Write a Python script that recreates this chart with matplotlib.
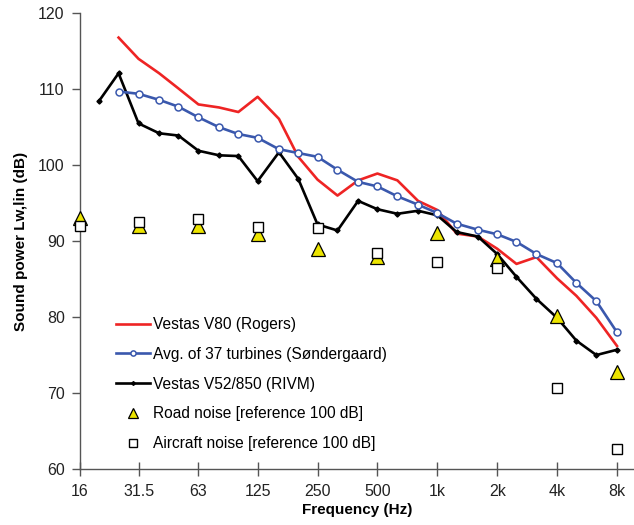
import matplotlib
matplotlib.use("Agg")
import matplotlib.pyplot as plt

plt.rcParams['font.family'] = ['Liberation Sans', 'DejaVu Sans']

# third-octave band centre frequencies (Hz)
freq_v80 = [25, 31.5, 40, 50, 63, 80, 100, 125, 160, 200, 250, 315, 400, 500, 630, 800,
            1000, 1250, 1600, 2000, 2500, 3150, 4000, 5000, 6300, 8000]
v80 = [116.8, 114.0, 112.1, 110.1, 108.0, 107.6, 107.0, 109.0, 106.1, 101.1, 98.1, 96.0,
       98.0, 98.9, 98.0, 95.3, 94.1, 91.0, 90.6, 89.0, 87.0, 87.9, 85.1, 82.8, 79.9, 76.2]

freq_avg = [25, 31.5, 40, 50, 63, 80, 100, 125, 160, 200, 250, 315, 400, 500, 630, 800,
            1000, 1250, 1600, 2000, 2500, 3150, 4000, 5000, 6300, 8000]
avg37 = [109.7, 109.4, 108.6, 107.7, 106.3, 105.0, 104.1, 103.6, 102.1, 101.6, 101.1, 99.4,
         97.8, 97.2, 95.9, 94.8, 93.7, 92.3, 91.5, 90.9, 89.9, 88.3, 87.1, 84.5, 82.1, 78.0]

freq_v52 = [20, 25, 31.5, 40, 50, 63, 80, 100, 125, 160, 200, 250, 315, 400, 500, 630, 800,
            1000, 1250, 1600, 2000, 2500, 3150, 4000, 5000, 6300, 8000]
v52 = [108.5, 112.1, 105.5, 104.2, 103.9, 101.9, 101.3, 101.2, 97.9, 101.7, 98.2, 92.2, 91.4,
       95.3, 94.2, 93.6, 94.0, 93.4, 91.2, 90.6, 88.3, 85.3, 82.4, 79.9, 76.9, 75.0, 75.7]

freq_oct = [16, 31.5, 63, 125, 250, 500, 1000, 2000, 4000, 8000]
road = [93.1, 92.0, 92.0, 90.9, 88.9, 87.9, 91.1, 87.7, 80.1, 72.8]
aircraft = [92.0, 92.5, 92.9, 91.9, 91.7, 88.4, 87.2, 86.4, 70.6, 62.6]

tick_labels = ['16', '31.5', '63', '125', '250', '500', '1k', '2k', '4k', '8k']

fig = plt.figure(figsize=(6.34, 5.25), dpi=100)
ax = fig.add_axes([0.1262, 0.1067, 0.8738, 0.8680])

red = '#ee2424'
blue = '#3a58ad'

ax.plot(freq_v80, v80, color=red, lw=1.9, label='Vestas V80 (Rogers)', zorder=3)
ax.plot(freq_avg, avg37, color=blue, lw=1.9, marker='o', ms=5, mfc='white', mec=blue,
        mew=1.1, label='Avg. of 37 turbines (Søndergaard)', zorder=4)
ax.plot(freq_v52, v52, color='black', lw=1.9, marker='D', ms=2.6, mfc='black', mec='black',
        label='Vestas V52/850 (RIVM)', zorder=3)
ax.plot(freq_oct, road, ls='none', marker='^', ms=9.5, mfc='#ece400', mec='black', mew=0.9,
        label='Road noise [reference 100 dB]', zorder=5, clip_on=False)
ax.plot(freq_oct, aircraft, ls='none', marker='s', ms=7.5, mfc='white', mec='black', mew=1.0,
        label='Aircraft noise [reference 100 dB]', zorder=5, clip_on=False)

ax.set_xscale('log', base=2)
ax.set_xlim(16, 9742)
ax.set_ylim(60, 120)
ax.set_xticks(freq_oct)
ax.set_xticklabels(tick_labels)
ax.minorticks_off()
ax.set_yticks(range(60, 121, 10))

for s in ['top', 'right']:
    ax.spines[s].set_visible(False)
for s in ['left', 'bottom']:
    ax.spines[s].set_color('#555555')
    ax.spines[s].set_linewidth(1.0)

ax.tick_params(axis='y', direction='out', length=6, width=1, color='#555555',
               labelsize=11.5, pad=5, labelcolor='#222222')
ax.tick_params(axis='x', direction='inout', length=10, width=1, color='#555555',
               labelsize=11.5, pad=6, labelcolor='#222222')

ax.set_xlabel('Frequency (Hz)', fontsize=11, fontweight='bold', labelpad=3)
ax.set_ylabel('Sound power Lw,lin (dB)', fontsize=11, fontweight='bold', labelpad=7)

leg = ax.legend(loc='upper left', bbox_to_anchor=(0.054, 0.347), frameon=False,
                fontsize=11.2, handlelength=2.2, handletextpad=0.15, labelspacing=0.95,
                numpoints=1, markerscale=0.75, borderaxespad=0)

fig.savefig('out.png', dpi=100)
